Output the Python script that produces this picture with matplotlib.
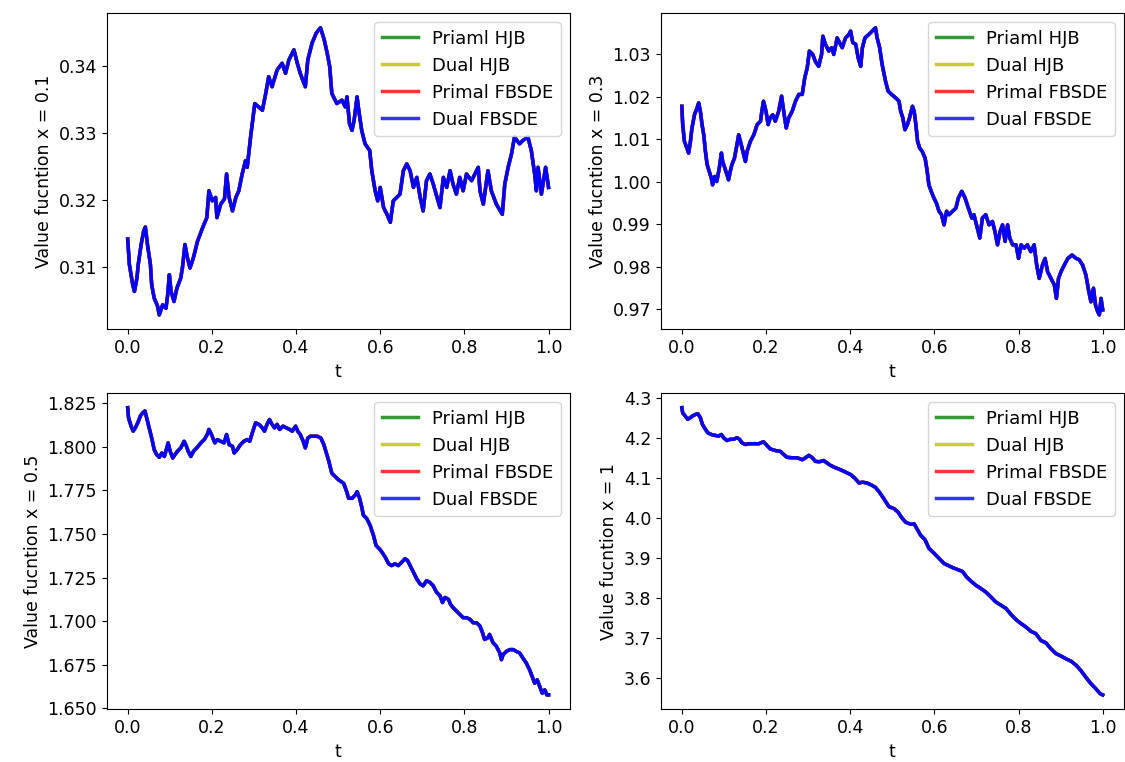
import matplotlib
matplotlib.use("Agg")
import matplotlib.pyplot as plt

plt.rcParams['font.size'] = 12.5

# value function paths, one (t, v) pair of lists per panel
t_01 = [0.000, 0.004, 0.012, 0.016, 0.022, 0.025, 0.032, 0.038, 0.042, 0.047, 0.054, 0.057, 0.063, 0.071, 0.075,
        0.083, 0.091, 0.095, 0.099, 0.103, 0.110, 0.117, 0.126, 0.130, 0.136, 0.142, 0.148, 0.156, 0.166, 0.178,
        0.188, 0.193, 0.201, 0.209, 0.212, 0.221, 0.230, 0.235, 0.241, 0.249, 0.257, 0.264, 0.272, 0.280, 0.284,
        0.292, 0.302, 0.320, 0.328, 0.335, 0.343, 0.355, 0.367, 0.375, 0.383, 0.395, 0.403, 0.410, 0.422, 0.428,
        0.438, 0.448, 0.458, 0.467, 0.474, 0.480, 0.485, 0.497, 0.509, 0.517, 0.521, 0.527, 0.533, 0.538, 0.545,
        0.549, 0.556, 0.564, 0.575, 0.580, 0.588, 0.594, 0.600, 0.608, 0.616, 0.624, 0.631, 0.639, 0.647, 0.655,
        0.663, 0.671, 0.679, 0.687, 0.695, 0.702, 0.710, 0.718, 0.726, 0.742, 0.750, 0.758, 0.766, 0.773, 0.781,
        0.789, 0.797, 0.805, 0.817, 0.833, 0.837, 0.845, 0.856, 0.864, 0.876, 0.890, 0.896, 0.904, 0.912, 0.919,
        0.931, 0.939, 0.951, 0.959, 0.967, 0.971, 0.975, 0.983, 0.993, 1.000]
v_01 = [0.3142, 0.3104, 0.3074, 0.3064, 0.3084, 0.3104, 0.3134, 0.3154, 0.3160, 0.3134, 0.3104, 0.3074, 0.3054, 0.3042, 0.3029,
        0.3044, 0.3039, 0.3059, 0.3089, 0.3064, 0.3049, 0.3069, 0.3084, 0.3099, 0.3134, 0.3114, 0.3099, 0.3114, 0.3139, 0.3159,
        0.3174, 0.3214, 0.3199, 0.3204, 0.3174, 0.3194, 0.3202, 0.3239, 0.3204, 0.3184, 0.3204, 0.3214, 0.3239, 0.3259, 0.3249,
        0.3294, 0.3344, 0.3334, 0.3359, 0.3384, 0.3369, 0.3394, 0.3404, 0.3389, 0.3409, 0.3424, 0.3404, 0.3389, 0.3369, 0.3409,
        0.3434, 0.3449, 0.3457, 0.3439, 0.3419, 0.3399, 0.3359, 0.3344, 0.3349, 0.3339, 0.3354, 0.3314, 0.3304, 0.3319, 0.3354,
        0.3334, 0.3304, 0.3284, 0.3274, 0.3244, 0.3214, 0.3199, 0.3219, 0.3189, 0.3179, 0.3167, 0.3199, 0.3204, 0.3209, 0.3244,
        0.3254, 0.3244, 0.3219, 0.3234, 0.3204, 0.3184, 0.3229, 0.3239, 0.3224, 0.3189, 0.3234, 0.3219, 0.3244, 0.3224, 0.3209,
        0.3234, 0.3214, 0.3239, 0.3229, 0.3249, 0.3214, 0.3194, 0.3244, 0.3214, 0.3194, 0.3179, 0.3224, 0.3249, 0.3269, 0.3294,
        0.3284, 0.3289, 0.3294, 0.3274, 0.3239, 0.3214, 0.3249, 0.3209, 0.3249, 0.3219]

t_03 = [0.000, 0.002, 0.006, 0.012, 0.016, 0.020, 0.024, 0.030, 0.036, 0.040, 0.044, 0.048, 0.052, 0.056, 0.060,
        0.065, 0.070, 0.073, 0.078, 0.083, 0.089, 0.094, 0.097, 0.102, 0.107, 0.111, 0.115, 0.119, 0.125, 0.131,
        0.135, 0.139, 0.145, 0.151, 0.155, 0.163, 0.171, 0.179, 0.187, 0.190, 0.194, 0.200, 0.205, 0.210, 0.216,
        0.222, 0.230, 0.237, 0.242, 0.248, 0.254, 0.262, 0.270, 0.278, 0.286, 0.292, 0.298, 0.303, 0.311, 0.317,
        0.325, 0.332, 0.335, 0.341, 0.349, 0.356, 0.361, 0.369, 0.377, 0.381, 0.389, 0.397, 0.401, 0.406, 0.413,
        0.419, 0.425, 0.429, 0.435, 0.444, 0.452, 0.460, 0.464, 0.470, 0.476, 0.484, 0.490, 0.498, 0.508, 0.516,
        0.520, 0.525, 0.530, 0.536, 0.541, 0.548, 0.552, 0.556, 0.560, 0.565, 0.571, 0.578, 0.583, 0.587, 0.594,
        0.599, 0.605, 0.611, 0.617, 0.623, 0.629, 0.635, 0.643, 0.651, 0.657, 0.665, 0.673, 0.681, 0.689, 0.694,
        0.702, 0.708, 0.714, 0.722, 0.730, 0.738, 0.744, 0.750, 0.756, 0.762, 0.768, 0.774, 0.779, 0.786, 0.794,
        0.800, 0.806, 0.813, 0.821, 0.829, 0.837, 0.843, 0.849, 0.857, 0.863, 0.869, 0.877, 0.885, 0.890, 0.895,
        0.901, 0.909, 0.917, 0.927, 0.937, 0.944, 0.952, 0.960, 0.967, 0.972, 0.978, 0.983, 0.988, 0.992, 0.996,
        1.000]
v_03 = [1.0178, 1.0135, 1.0096, 1.0080, 1.0068, 1.0092, 1.0127, 1.0158, 1.0174, 1.0186, 1.0166, 1.0135, 1.0111, 1.0072, 1.0041,
        1.0025, 1.0009, 0.9993, 1.0013, 1.0001, 1.0033, 1.0068, 1.0048, 1.0033, 1.0017, 1.0005, 1.0025, 1.0041, 1.0056, 1.0088,
        1.0111, 1.0096, 1.0072, 1.0048, 1.0072, 1.0096, 1.0111, 1.0135, 1.0143, 1.0166, 1.0190, 1.0166, 1.0135, 1.0151, 1.0158,
        1.0143, 1.0166, 1.0202, 1.0166, 1.0127, 1.0151, 1.0166, 1.0190, 1.0206, 1.0206, 1.0245, 1.0269, 1.0308, 1.0300, 1.0284,
        1.0272, 1.0300, 1.0343, 1.0324, 1.0308, 1.0316, 1.0300, 1.0339, 1.0324, 1.0316, 1.0339, 1.0347, 1.0355, 1.0328, 1.0324,
        1.0292, 1.0272, 1.0316, 1.0339, 1.0347, 1.0355, 1.0363, 1.0339, 1.0316, 1.0276, 1.0237, 1.0214, 1.0206, 1.0198, 1.0190,
        1.0166, 1.0151, 1.0123, 1.0135, 1.0151, 1.0178, 1.0166, 1.0135, 1.0096, 1.0080, 1.0072, 1.0056, 1.0025, 0.9993, 0.9974,
        0.9962, 0.9950, 0.9931, 0.9923, 0.9899, 0.9931, 0.9923, 0.9931, 0.9938, 0.9962, 0.9978, 0.9962, 0.9938, 0.9915, 0.9923,
        0.9891, 0.9868, 0.9915, 0.9923, 0.9899, 0.9907, 0.9883, 0.9852, 0.9883, 0.9899, 0.9860, 0.9899, 0.9868, 0.9852, 0.9852,
        0.9820, 0.9852, 0.9844, 0.9852, 0.9836, 0.9852, 0.9805, 0.9773, 0.9805, 0.9820, 0.9789, 0.9773, 0.9758, 0.9726, 0.9773,
        0.9789, 0.9805, 0.9820, 0.9828, 0.9820, 0.9817, 0.9805, 0.9781, 0.9742, 0.9718, 0.9750, 0.9710, 0.9695, 0.9687, 0.9726,
        0.9699]

t_05 = [0.000, 0.002, 0.008, 0.013, 0.018, 0.024, 0.030, 0.036, 0.041, 0.046, 0.051, 0.057, 0.063, 0.069, 0.075,
        0.081, 0.087, 0.093, 0.096, 0.101, 0.107, 0.112, 0.118, 0.126, 0.134, 0.138, 0.144, 0.150, 0.156, 0.164,
        0.174, 0.182, 0.189, 0.193, 0.199, 0.207, 0.213, 0.221, 0.229, 0.235, 0.241, 0.249, 0.253, 0.260, 0.268,
        0.276, 0.284, 0.290, 0.296, 0.304, 0.312, 0.320, 0.325, 0.331, 0.337, 0.343, 0.349, 0.355, 0.361, 0.369,
        0.377, 0.385, 0.391, 0.399, 0.404, 0.410, 0.417, 0.422, 0.428, 0.434, 0.442, 0.450, 0.459, 0.466, 0.472,
        0.478, 0.485, 0.493, 0.501, 0.513, 0.519, 0.525, 0.533, 0.541, 0.545, 0.551, 0.556, 0.560, 0.568, 0.576,
        0.584, 0.590, 0.598, 0.604, 0.612, 0.620, 0.627, 0.635, 0.643, 0.651, 0.659, 0.665, 0.671, 0.679, 0.687,
        0.695, 0.702, 0.710, 0.718, 0.726, 0.734, 0.742, 0.748, 0.754, 0.762, 0.767, 0.773, 0.781, 0.789, 0.797,
        0.805, 0.813, 0.821, 0.829, 0.837, 0.843, 0.848, 0.856, 0.860, 0.868, 0.876, 0.884, 0.888, 0.892, 0.900,
        0.908, 0.916, 0.923, 0.931, 0.939, 0.947, 0.955, 0.961, 0.967, 0.973, 0.979, 0.985, 0.991, 0.996, 1.000]
v_05 = [1.8225, 1.8167, 1.8119, 1.8090, 1.8109, 1.8138, 1.8177, 1.8196, 1.8206, 1.8157, 1.8109, 1.8051, 1.7984, 1.7955, 1.7940,
        1.7965, 1.7945, 1.7994, 1.8023, 1.7974, 1.7936, 1.7955, 1.7974, 1.7994, 1.8032, 1.8013, 1.7974, 1.7945, 1.7974, 1.7994,
        1.8023, 1.8042, 1.8071, 1.8100, 1.8071, 1.8023, 1.8042, 1.8032, 1.8023, 1.8071, 1.8013, 1.8003, 1.7965, 1.7984, 1.8013,
        1.8032, 1.8042, 1.8032, 1.8080, 1.8138, 1.8129, 1.8109, 1.8090, 1.8129, 1.8157, 1.8129, 1.8109, 1.8129, 1.8100, 1.8119,
        1.8109, 1.8100, 1.8090, 1.8119, 1.8090, 1.8071, 1.8032, 1.7994, 1.8051, 1.8061, 1.8061, 1.8061, 1.8051, 1.8013, 1.7965,
        1.7917, 1.7849, 1.7830, 1.7811, 1.7791, 1.7753, 1.7705, 1.7705, 1.7724, 1.7743, 1.7705, 1.7656, 1.7608, 1.7589, 1.7550,
        1.7492, 1.7435, 1.7415, 1.7396, 1.7367, 1.7329, 1.7319, 1.7329, 1.7319, 1.7338, 1.7358, 1.7348, 1.7319, 1.7280, 1.7242,
        1.7213, 1.7203, 1.7232, 1.7223, 1.7203, 1.7165, 1.7146, 1.7107, 1.7136, 1.7126, 1.7097, 1.7078, 1.7059, 1.7039, 1.7020,
        1.7020, 1.7011, 1.6991, 1.6991, 1.6972, 1.6934, 1.6895, 1.6905, 1.6924, 1.6876, 1.6856, 1.6818, 1.6779, 1.6808, 1.6827,
        1.6837, 1.6837, 1.6827, 1.6818, 1.6789, 1.6760, 1.6721, 1.6683, 1.6644, 1.6664, 1.6625, 1.6587, 1.6606, 1.6577, 1.6577]

t_1 = [0.000, 0.002, 0.008, 0.014, 0.020, 0.025, 0.032, 0.038, 0.044, 0.049, 0.056, 0.062, 0.070, 0.078, 0.087,
       0.094, 0.099, 0.107, 0.115, 0.123, 0.131, 0.137, 0.143, 0.151, 0.159, 0.171, 0.183, 0.194, 0.202, 0.210,
       0.222, 0.234, 0.242, 0.250, 0.262, 0.274, 0.286, 0.294, 0.302, 0.310, 0.317, 0.327, 0.337, 0.345, 0.353,
       0.365, 0.377, 0.389, 0.401, 0.411, 0.421, 0.429, 0.440, 0.452, 0.460, 0.468, 0.476, 0.484, 0.492, 0.504,
       0.514, 0.522, 0.532, 0.544, 0.552, 0.560, 0.567, 0.578, 0.587, 0.599, 0.611, 0.623, 0.633, 0.643, 0.655,
       0.667, 0.676, 0.687, 0.698, 0.710, 0.722, 0.734, 0.746, 0.758, 0.770, 0.782, 0.794, 0.806, 0.817, 0.829,
       0.841, 0.853, 0.865, 0.877, 0.889, 0.901, 0.913, 0.925, 0.937, 0.948, 0.960, 0.972, 0.984, 0.994, 1.000]
v_1 = [4.275, 4.262, 4.254, 4.246, 4.250, 4.254, 4.258, 4.260, 4.250, 4.233, 4.221, 4.212, 4.208, 4.206, 4.204,
       4.208, 4.200, 4.193, 4.196, 4.196, 4.200, 4.196, 4.187, 4.183, 4.185, 4.185, 4.185, 4.190, 4.181, 4.172,
       4.168, 4.166, 4.158, 4.151, 4.150, 4.150, 4.145, 4.150, 4.156, 4.150, 4.141, 4.140, 4.143, 4.137, 4.131,
       4.125, 4.120, 4.114, 4.108, 4.099, 4.087, 4.089, 4.087, 4.081, 4.076, 4.066, 4.054, 4.041, 4.028, 4.023,
       4.014, 4.001, 3.989, 3.984, 3.985, 3.970, 3.957, 3.945, 3.924, 3.912, 3.899, 3.886, 3.881, 3.876, 3.871,
       3.866, 3.853, 3.842, 3.832, 3.824, 3.815, 3.803, 3.790, 3.782, 3.774, 3.759, 3.746, 3.736, 3.728, 3.717,
       3.711, 3.694, 3.688, 3.673, 3.661, 3.655, 3.648, 3.642, 3.632, 3.619, 3.602, 3.586, 3.573, 3.561, 3.558]

x_names = ["0.1", "0.3", "0.5", "1"]
series = [(t_01, v_01), (t_03, v_03), (t_05, v_05), (t_1, v_1)]
methods = ["Priaml HJB", "Dual HJB", "Primal FBSDE", "Dual FBSDE"]
colors = ["g", "y", "r", "b"]

fig, axes = plt.subplots(2, 2, figsize=(11.25, 7.62), dpi=100)
fig.subplots_adjust(left=0.0948, right=0.9989, top=0.9825, bottom=0.0692, wspace=0.197, hspace=0.2025)

for ax, name, (t, v) in zip(axes.flat, x_names, series):
    # all four methods give the same curve, drawn on top of each other
    for m, c in zip(methods, colors):
        ax.plot(t, v, color=c, lw=2.5, label=m)
    ax.set_xlabel("t")
    ax.set_ylabel("Value fucntion x = " + name)
    leg = ax.legend(loc="upper right", fontsize=13)
    for h in leg.get_lines():
        h.set_alpha(0.8)

plt.savefig("out.png", dpi=100)
